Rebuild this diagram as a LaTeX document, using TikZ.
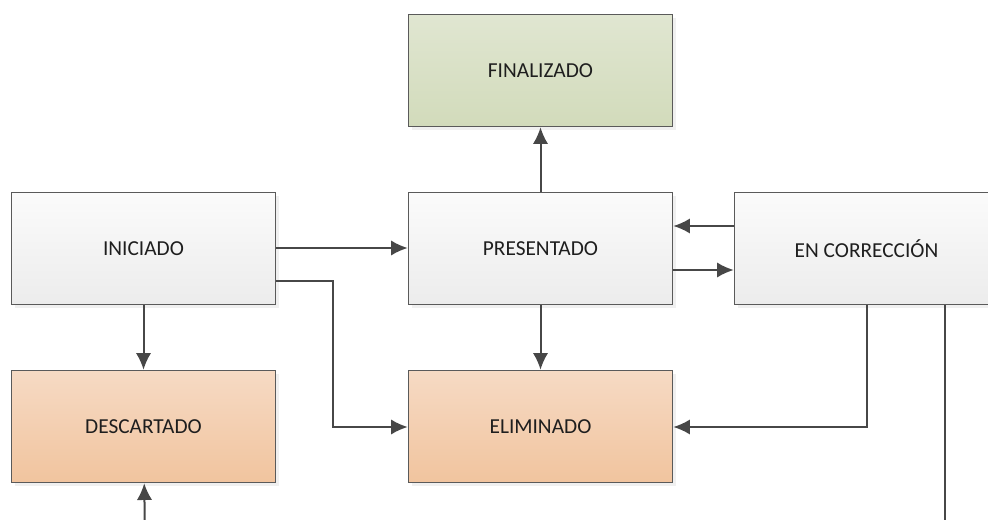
\documentclass[tikz,border=0pt]{standalone}
\usepackage{fontspec}
\setmainfont{Carlito}
\usepackage{tikz}
\usetikzlibrary{arrows.meta,shadows}

\definecolor{edgegray}{HTML}{5A5A5A}
\definecolor{linegray}{HTML}{474747}
\definecolor{textgray}{HTML}{1E1E1E}
\definecolor{graytop}{HTML}{FBFBFB}
\definecolor{graybot}{HTML}{ECECEC}
\definecolor{greentop}{HTML}{E0E6D1}
\definecolor{greenbot}{HTML}{D2DBBB}
\definecolor{orangetop}{HTML}{F6DAC4}
\definecolor{orangebot}{HTML}{F1C49E}

\tikzset{
  state/.style={draw=edgegray, line width=1.2pt, rectangle,
    minimum width=198pt, minimum height=84pt, inner sep=0pt,
    text=textgray, font=\fontsize{16}{19}\selectfont,
    drop shadow={shadow xshift=2.5pt, shadow yshift=-2.5pt, opacity=0.12},
    top color=graytop, bottom color=graybot},
  done/.style={state, top color=greentop, bottom color=greenbot},
  dropped/.style={state, top color=orangetop, bottom color=orangebot},
  flow/.style={->, draw=linegray, line width=1.5pt}
}

\begin{document}
\begin{tikzpicture}[>={Latex[length=12.5pt,width=11.5pt]},x=0.75pt,y=-0.75pt]
   \useasboundingbox (0,0) rectangle (988,520);
   \clip (0,0) rectangle (988,520);

   \node[done] (fin) at (540.5,70.5) {FINALIZADO};
   \node[state] (ini) at (143.5,248.5) {INICIADO};
   \node[state] (pre) at (540.5,248.5) {PRESENTADO};
   \node[state] (cor) at (866.5,248.5) {EN CORRECCIÓN};
   \node[dropped] (des) at (143.5,426.5) {DESCARTADO};
   \node[dropped] (eli) at (540.5,426.5) {ELIMINADO};

   \coordinate (low1) at (145,540);
   \coordinate (low2) at (945,540);

   \draw[flow] (pre) -- (fin);
   \draw[flow] (ini.east |- 0,248) -- (pre.west |- 0,248);
   \draw[flow] (ini.east |- 0,281) -- (333,281) -- (333,427) -- (eli.west |- 0,427);
   \draw[flow] (ini) -- (des);
   \draw[flow] (pre) -- (eli);
   \draw[flow] (cor.west |- 0,226) -- (pre.east |- 0,226);
   \draw[flow] (pre.east |- 0,270) -- (cor.west |- 0,270);
   \draw[flow] (cor.south -| 867,0) -- (867,427) -- (eli.east |- 0,427);
   \draw[draw=linegray, line width=1.5pt] (cor.south -| low2) -- (low2);
   \draw[flow] (low1) -- (des);
\end{tikzpicture}
\end{document}
